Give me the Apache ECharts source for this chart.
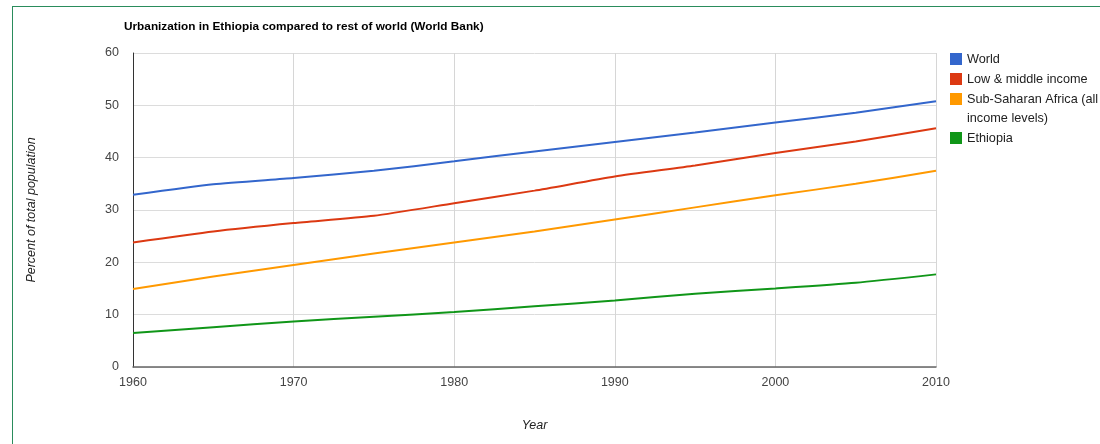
<!DOCTYPE html>
<html>
<head>
<meta charset="utf-8">
<style>
  html, body { margin: 0; padding: 0; background: #ffffff; }
  #wrap { position: relative; width: 1100px; height: 444px; overflow: hidden; }
  #chart { position: absolute; left: 0; top: 0; width: 1100px; height: 444px; }
  #frame {
    position: absolute; left: 12px; top: 6px; width: 1100px; height: 460px;
    border-left: 1.5px solid #2a8c5c; border-top: 1.5px solid #2a8c5c;
    pointer-events: none;
  }
</style>
<script src="https://cdn.jsdelivr.net/npm/echarts@6/dist/echarts.min.js"></script>
</head>
<body>
<div id="wrap">
  <div id="chart"></div>
  <div id="frame"></div>
</div>
<script>
// Urban population, percent of total (World Bank), 5-year steps
const years = [1960, 1965, 1970, 1975, 1980, 1985, 1990, 1995, 2000, 2005, 2010];
const world = [32.9, 34.9, 36.1, 37.5, 39.3, 41.2, 43.0, 44.8, 46.7, 48.6, 50.8];
const lowMiddle = [23.8, 25.9, 27.5, 28.9, 31.3, 33.7, 36.4, 38.5, 40.9, 43.1, 45.6];
const subSaharan = [14.9, 17.3, 19.5, 21.7, 23.8, 25.9, 28.2, 30.5, 32.8, 35.0, 37.5];
const ethiopia = [6.5, 7.6, 8.7, 9.6, 10.5, 11.6, 12.7, 14.0, 15.0, 16.1, 17.7];

const seriesNames = ['World', 'Low & middle income', 'Sub-Saharan Africa (all income levels)', 'Ethiopia'];
const seriesValues = [world, lowMiddle, subSaharan, ethiopia];
const seriesColors = ['#3366cc', '#dc3912', '#ff9900', '#109618'];

const chart = echarts.init(document.getElementById('chart'), null, { renderer: 'canvas' });

const fontFamily = 'Liberation Sans, Arial, sans-serif';
const legendText = { color: '#222', fontSize: 12.7, fontFamily: fontFamily, lineHeight: 19 };
const legendBase = {
  orient: 'vertical', left: 950, padding: 0, itemWidth: 12, itemHeight: 12, itemGap: 1,
  icon: 'rect', selectedMode: false, textStyle: legendText
};

chart.setOption({
  animation: false,
  color: seriesColors,
  title: {
    text: 'Urbanization in Ethiopia compared to rest of world (World Bank)',
    left: 124, top: 21, padding: 0,
    textStyle: { fontSize: 11.8, fontWeight: 'bold', color: '#000', fontFamily: fontFamily }
  },
  legend: [
    Object.assign({}, legendBase, { top: 49.5, data: [seriesNames[0], seriesNames[1]] }),
    Object.assign({}, legendBase, {
      top: 70.5, data: [seriesNames[2], seriesNames[3]],
      formatter: function (name) {
        // long names wrap, the blank first line keeps the swatch beside the first row
        return name === seriesNames[2] ? '\nSub-Saharan Africa (all\nincome levels)' : name;
      }
    })
  ],
  grid: { left: 133, right: 164, top: 53, bottom: 77 },
  xAxis: {
    type: 'value', min: 1960, max: 2010, interval: 10,
    name: 'Year', nameLocation: 'middle', nameGap: 52,
    nameTextStyle: { fontStyle: 'italic', fontSize: 12.5, color: '#222', fontFamily: fontFamily },
    axisLine: { show: true, lineStyle: { color: '#666', width: 1.5 } },
    axisTick: { show: false },
    axisLabel: {
      margin: 9, color: '#444', fontSize: 12.5, fontFamily: fontFamily,
      formatter: function (v) { return String(v); }
    },
    splitLine: { show: true, lineStyle: { color: '#d6d6d6', width: 1 } }
  },
  yAxis: {
    type: 'value', min: 0, max: 60, interval: 10,
    name: 'Percent of total population', nameLocation: 'middle', nameGap: 95,
    nameTextStyle: { fontStyle: 'italic', fontSize: 12.5, color: '#222', fontFamily: fontFamily },
    axisLine: { show: true, lineStyle: { color: '#333', width: 1 } },
    axisTick: { show: false },
    axisLabel: { margin: 14, color: '#444', fontSize: 12.5, fontFamily: fontFamily },
    splitLine: { show: true, lineStyle: { color: '#dcdcdc', width: 1 } }
  },
  series: seriesNames.map(function (name, i) {
    return {
      name: name,
      type: 'line',
      showSymbol: false,
      smooth: 0.2,
      lineStyle: { width: 2, color: seriesColors[i] },
      itemStyle: { color: seriesColors[i] },
      data: years.map(function (y, k) { return [y, seriesValues[i][k]]; })
    };
  })
});
</script>
</body>
</html>
